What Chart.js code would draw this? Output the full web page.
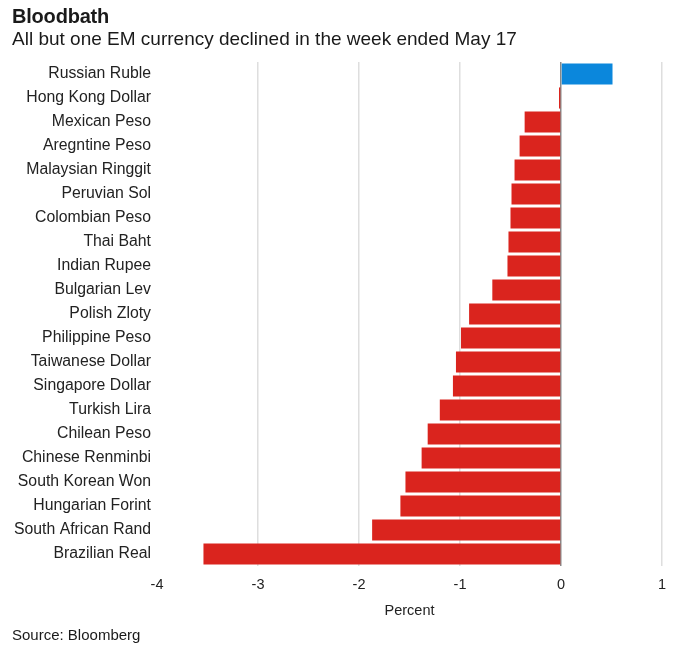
<!DOCTYPE html>
<html>
<head>
<meta charset="utf-8">
<script src="https://cdn.jsdelivr.net/npm/chart.js@4/dist/chart.umd.min.js"></script>
<style>
  body { margin:0; background:#fff; font-family:"Liberation Sans", Arial, sans-serif; color:#1a1a1a; }
  #wrap { position:relative; width:699px; height:655px; }
  #title { position:absolute; left:12px; top:5px; font-size:20px; font-weight:bold; letter-spacing:-0.2px; }
  #subtitle { position:absolute; left:12px; top:28px; font-size:19px; }
  #source { position:absolute; left:12px; top:626px; font-size:15px; }
  canvas { position:absolute; left:0; top:0; }
</style>
</head>
<body>
<div id="wrap">
  <canvas id="chart" width="699" height="655"></canvas>
  <div id="title">Bloodbath</div>
  <div id="subtitle">All but one EM currency declined in the week ended May 17</div>
  <div id="source">Source: Bloomberg</div>
</div>
<script>
// Weekly change, percent
const currencies = ['Russian Ruble','Hong Kong Dollar','Mexican Peso','Aregntine Peso','Malaysian Ringgit',
  'Peruvian Sol','Colombian Peso','Thai Baht','Indian Rupee','Bulgarian Lev','Polish Zloty',
  'Philippine Peso','Taiwanese Dollar','Singapore Dollar','Turkish Lira','Chilean Peso',
  'Chinese Renminbi','South Korean Won','Hungarian Forint','South African Rand','Brazilian Real'];
const changes = [0.51, -0.02, -0.36, -0.41, -0.46, -0.49, -0.50, -0.52, -0.53, -0.68, -0.91,
  -0.99, -1.04, -1.07, -1.20, -1.32, -1.38, -1.54, -1.59, -1.87, -3.54];
const xTicks = [-4, -3, -2, -1, 0, 1];

const RED = '#da241e', BLUE = '#0b87dc';

new Chart(document.getElementById('chart'), {
  type: 'bar',
  data: {
    labels: currencies,
    datasets: [{
      data: changes,
      backgroundColor: changes.map(v => v >= 0 ? BLUE : RED),
      borderWidth: 0,
      barPercentage: 0.88,
      categoryPercentage: 1
    }]
  },
  options: {
    indexAxis: 'y',
    responsive: false,
    animation: false,
    layout: { padding: { top: 62, right: 37, bottom: 29, left: 0 } },
    plugins: { legend: { display: false }, tooltip: { enabled: false } },
    scales: {
      x: {
        min: -4, max: 1,
        afterBuildTicks: s => { s.ticks = xTicks.map(v => ({ value: v })); },
        afterFit: s => { s.height = 60; },
        border: { display: false },
        grid: {
          drawTicks: false,
          lineWidth: 1.5,
          color: c => c.tick.value === 0 ? '#8a8a8a' : (c.tick.value === -4 ? 'rgba(0,0,0,0)' : '#dedede')
        },
        ticks: { padding: 10, color: '#222', font: { family: 'Liberation Sans', size: 14.5 } },
        title: { display: true, text: 'Percent', color: '#222', padding: { top: 0, bottom: 6 },
                 font: { family: 'Liberation Sans', size: 14.5 } }
      },
      y: {
        afterFit: s => { s.width = 157; },
        border: { display: false },
        grid: { display: false, drawTicks: false },
        ticks: { padding: 6, color: '#222', font: { family: 'Liberation Sans', size: 15.8 } }
      }
    }
  }
});
</script>
</body>
</html>
